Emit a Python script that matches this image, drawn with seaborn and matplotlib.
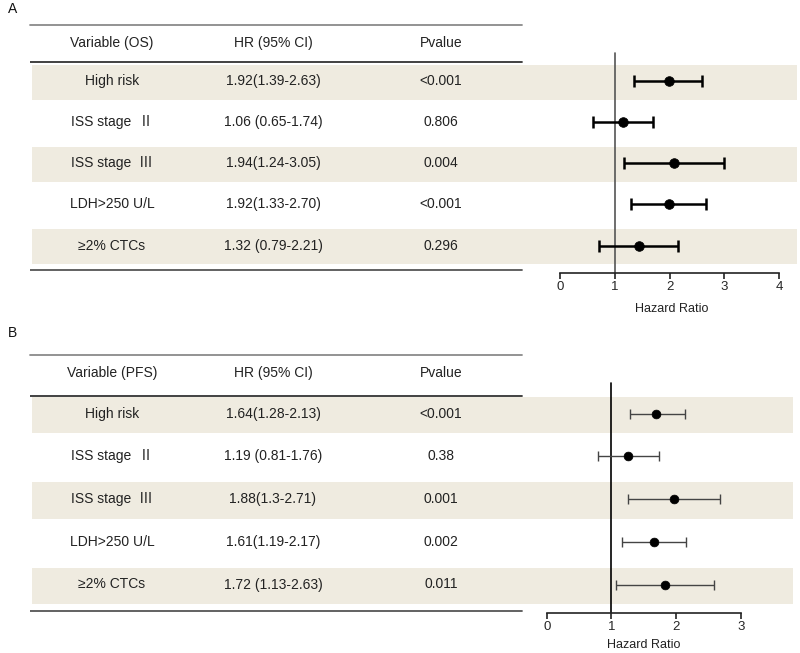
# Forest plots for OS and PFS (Cox regression) with side table
import numpy as np
import pandas as pd
import seaborn as sns
import matplotlib.pyplot as plt

variables = ["High risk", "ISS stage  Ⅱ", "ISS stage  Ⅲ", "LDH>250 U/L", "≥2% CTCs"]

# Panel A: overall survival
os_hr_text = ["1.92(1.39-2.63)", "1.06 (0.65-1.74)", "1.94(1.24-3.05)", "1.92(1.33-2.70)", "1.32 (0.79-2.21)"]
os_p_text = ["<0.001", "0.806", "0.004", "<0.001", "0.296"]
os_hr = [1.98, 1.15, 2.08, 1.98, 1.44]
os_lo = [1.35, 0.60, 1.17, 1.29, 0.72]
os_hi = [2.60, 1.70, 2.99, 2.67, 2.15]

# Panel B: progression-free survival
pfs_hr_text = ["1.64(1.28-2.13)", "1.19 (0.81-1.76)", "1.88(1.3-2.71)", "1.61(1.19-2.17)", "1.72 (1.13-2.63)"]
pfs_p_text = ["<0.001", "0.38", "0.001", "0.002", "0.011"]
pfs_hr = [1.69, 1.26, 1.97, 1.66, 1.83]
pfs_lo = [1.28, 0.79, 1.26, 1.16, 1.07]
pfs_hi = [2.13, 1.74, 2.68, 2.15, 2.59]

sns.set_theme(style="white")
plt.rcParams['font.family'] = ['Liberation Sans', 'Noto Sans CJK SC', 'DejaVu Sans']

W, H = 800, 653
fig = plt.figure(figsize=(W / 100, H / 100), dpi=100)

BAND = "#efebe0"


def draw_panel(label, label_y, title, hr_text, p_text, hr, lo, hi, xticks,
               top, bottom, right, x0px, unit, row0, step, line_y, xlab_px, xlab_dy,
               lw, ecolor, vcolor, msize, cap):
    left = 30
    ax = fig.add_axes([left / W, 1 - bottom / H, (right - left) / W, (bottom - top) / H])

    def ry(py):
        return (py - row0) / step

    df = pd.DataFrame({"var": variables, "hr": hr, "lo": lo, "hi": hi,
                       "row": np.arange(len(variables))})

    # shaded rows
    for r in df["row"][::2]:
        ax.axhspan(r - 0.39, r + 0.46, xmin=2 / (right - left), xmax=1,
                   color=BAND, zorder=0, lw=0)

    # table rules
    tab_end = (522 - left) / (right - left)
    ax.axhline(ry(top) + 0.01, xmin=0, xmax=tab_end, color="#8a8a8a", lw=1.3, clip_on=False)
    ax.axhline(ry(line_y[0]), xmin=0, xmax=tab_end, color="#333333", lw=1.3)
    ax.axhline(ry(line_y[1]), xmin=0, xmax=tab_end, color="#555555", lw=1.3)

    # table text
    cols = [112, 273, 441]
    fx = [(c - left) / (right - left) for c in cols]
    trans = ax.get_yaxis_transform()
    hy = ry(top + 18)
    for x, t in zip(fx, [title, "HR (95% CI)", "Pvalue"]):
        ax.text(x, hy, t, transform=trans, ha="center", va="center", fontsize=10, color="#222222")
    for i in range(len(variables)):
        for x, t in zip(fx, [variables[i], hr_text[i], p_text[i]]):
            ax.text(x, i, t, transform=trans, ha="center", va="center", fontsize=10, color="#222222")

    # reference line
    ax.axvline(1, ymin=0, ymax=(bottom - (top + 28)) / (bottom - top), color=vcolor, lw=1.2, zorder=1)

    # estimates
    ax.errorbar(df["hr"], df["row"], xerr=[df["hr"] - df["lo"], df["hi"] - df["hr"]],
                fmt="none", ecolor=ecolor, elinewidth=lw, capsize=cap, capthick=lw, zorder=2)
    sns.scatterplot(data=df, x="hr", y="row", ax=ax, color="black", s=msize,
                    edgecolor="black", zorder=3, legend=False)

    ax.set_xlim((left - x0px) / unit, (right - x0px) / unit)
    ax.set_ylim(ry(bottom), ry(top))
    ax.set_yticks([])
    ax.set_ylabel("")
    ax.set_xlabel("")
    ax.set_xticks(xticks)
    ax.set_xticklabels([str(t) for t in xticks])
    for s in ["left", "right", "top"]:
        ax.spines[s].set_visible(False)
    ax.spines["bottom"].set_bounds(xticks[0], xticks[-1])
    ax.spines["bottom"].set_color("#222222")
    ax.spines["bottom"].set_linewidth(1.2)
    ax.tick_params(axis="x", direction="out", length=4, width=1.2, color="#222222",
                   labelsize=9.5, pad=2, bottom=True)
    ax.text((xlab_px - x0px) / unit, -xlab_dy / (bottom - top), "Hazard Ratio",
            transform=ax.get_xaxis_transform(), ha="center", va="center",
            fontsize=9, color="#222222")
    fig.text(8 / W, 1 - label_y / H, label, fontsize=10, ha="left", va="center", color="#111111")
    return ax


draw_panel("A", 9, "Variable (OS)", os_hr_text, os_p_text, os_hr, os_lo, os_hi, [0, 1, 2, 3, 4],
           top=25, bottom=273, right=797, x0px=560, unit=54.8, row0=80.7, step=41.2,
           line_y=(62, 270), xlab_px=672, xlab_dy=36,
           lw=1.8, ecolor="black", vcolor="#555555", msize=48, cap=4)
draw_panel("B", 333, "Variable (PFS)", pfs_hr_text, pfs_p_text, pfs_hr, pfs_lo, pfs_hi, [0, 1, 2, 3],
           top=355, bottom=613, right=793, x0px=546.7, unit=64.7, row0=413.7, step=42.7,
           line_y=(396, 611), xlab_px=644, xlab_dy=32,
           lw=1.0, ecolor="#444444", vcolor="black", msize=40, cap=3.5)

fig.savefig("out.png", dpi=100)
